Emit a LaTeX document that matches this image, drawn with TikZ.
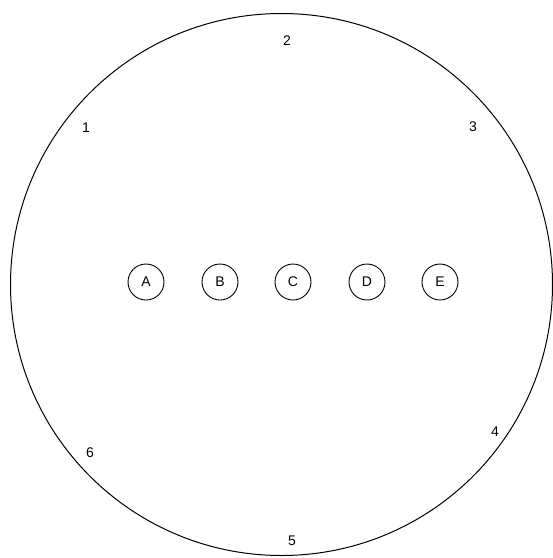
\documentclass[tikz,border=0pt]{standalone}
\usepackage{fontspec}
\setmainfont{Liberation Sans}
\begin{document}
\begin{tikzpicture}[x=1pt,y=-1pt,
  small/.style={circle,draw,line width=0.9pt,minimum size=36pt,inner sep=0pt,font=\fontsize{14}{14}\selectfont},
  num/.style={inner sep=0pt,font=\fontsize{14}{14}\selectfont}]
\useasboundingbox (0,0) rectangle (553,558);
\node[circle,draw,line width=1pt,minimum size=542pt,inner sep=0pt] (big) at (281.5,284.5) {};
\node[small] (A) at (146,282) {A};
\node[small] (B) at (220,282) {B};
\node[small] (C) at (293,282) {C};
\node[small] (D) at (367,282) {D};
\node[small] (E) at (440,282) {E};
\node[num] (n1) at (86,128) {1};
\node[num] (n2) at (287,41) {2};
\node[num] (n3) at (473,127) {3};
\node[num] (n4) at (495,432) {4};
\node[num] (n5) at (292,541) {5};
\node[num] (n6) at (90,453) {6};
\end{tikzpicture}
\end{document}
